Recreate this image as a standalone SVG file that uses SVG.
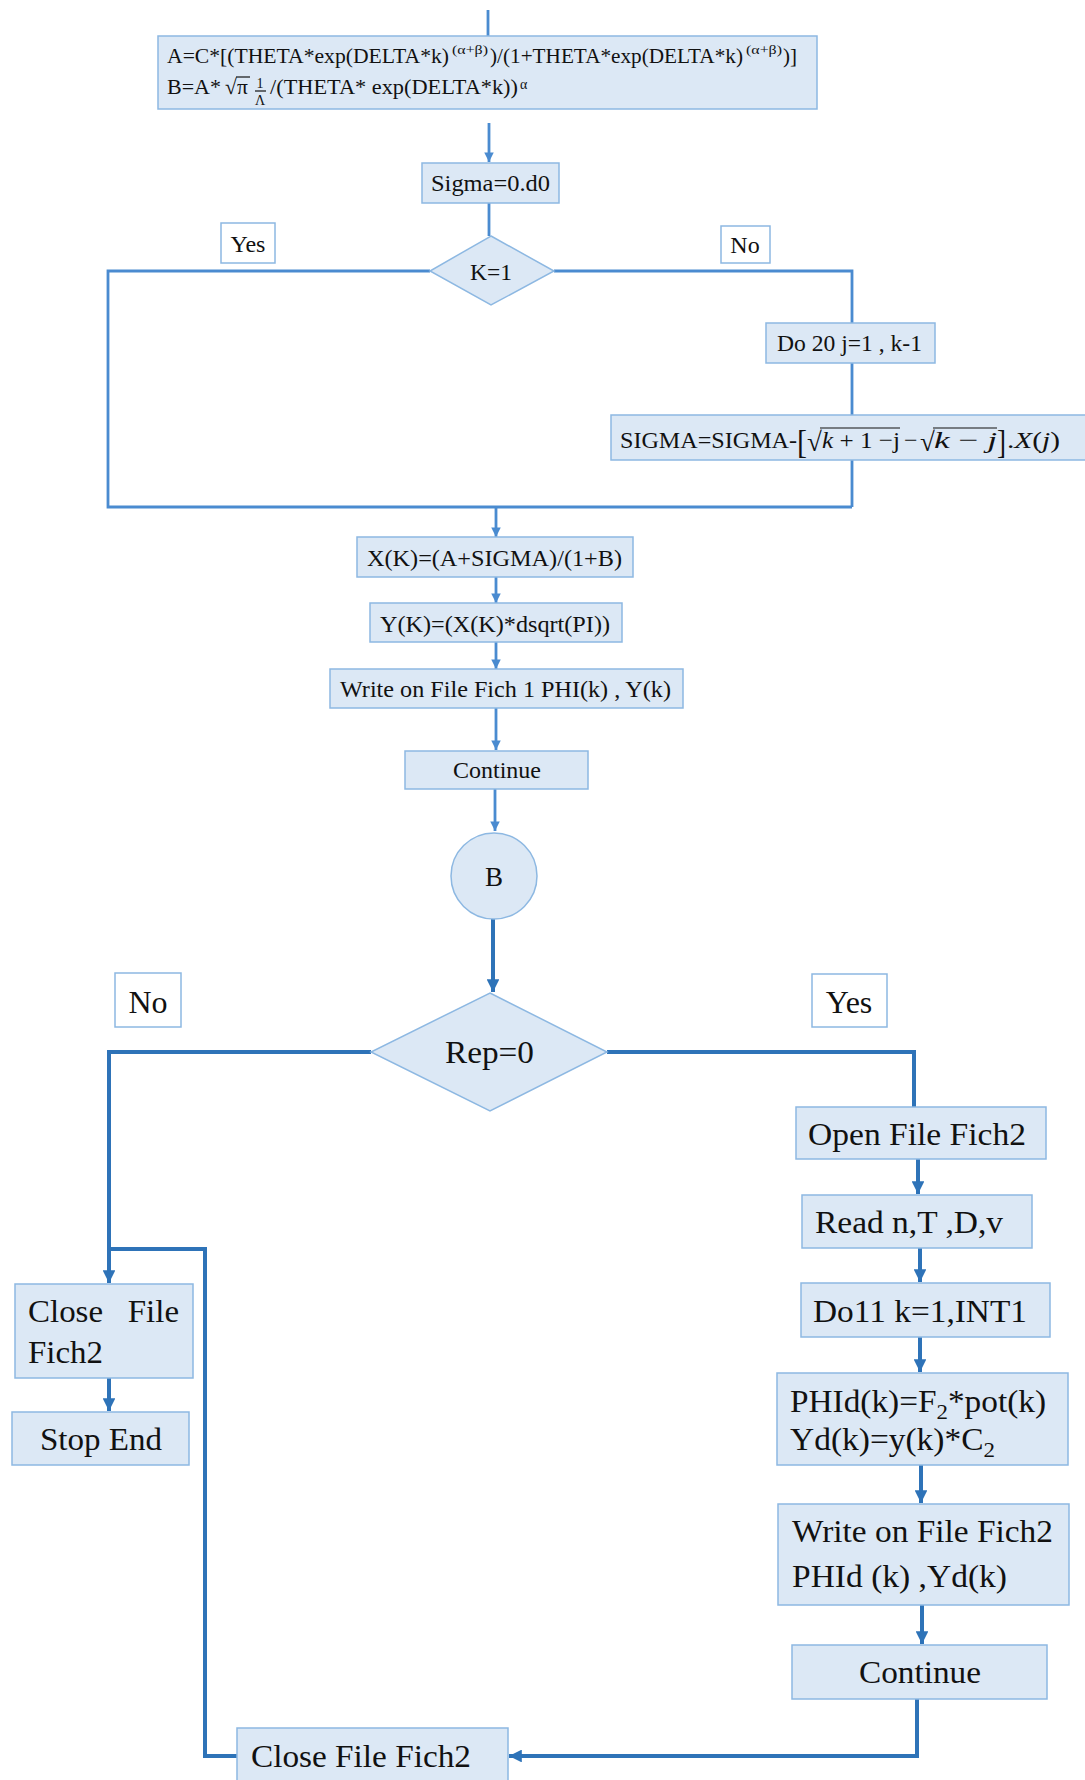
<svg xmlns="http://www.w3.org/2000/svg" width="1085" height="1780" viewBox="0 0 1085 1780">
<style>
text{font-family:"Liberation Serif","Times New Roman",serif;fill:#111}
.box{fill:#dce8f5;stroke:#8db8e2;stroke-width:1.5}
.lbl{fill:#fff;stroke:#8db8e2;stroke-width:1.5}
.t{font-size:24px}
.a{font-size:21.5px}
.s{font-size:13px}
.b{font-size:32px}
.c1{fill:none;stroke:#4a8bd0;stroke-width:2.8}
.c2{fill:none;stroke:#2e73b8;stroke-width:4}
.ov{stroke:#111;stroke-width:1.2}
</style>
<defs>
<marker id="ar" viewBox="0 0 10 10" refX="10" refY="5" markerWidth="3.4" markerHeight="3.4" orient="auto" markerUnits="strokeWidth">
<path d="M0,0 L10,5 L0,10 z" fill="#4a8bd0"/>
</marker>
<marker id="ar2" viewBox="0 0 10 10" refX="10" refY="5" markerWidth="3.2" markerHeight="3.2" orient="auto" markerUnits="strokeWidth">
<path d="M0,0 L10,5 L0,10 z" fill="#2e73b8"/>
</marker>
</defs>

<g id="connectors">
<path class="c1" d="M488,10 V36"/>
<path class="c1" d="M489,123 V162" marker-end="url(#ar)"/>
<path class="c1" d="M489,203 V236"/>
<path class="c1" d="M430,271 H108 V507 H852"/>
<path class="c1" d="M554,271 H852 V323"/>
<path class="c1" d="M852,363 V415"/>
<path class="c1" d="M852,460 V507"/>
<path class="c1" d="M496,507 V537" marker-end="url(#ar)"/>
<path class="c1" d="M496,577 V603" marker-end="url(#ar)"/>
<path class="c1" d="M496,642 V669" marker-end="url(#ar)"/>
<path class="c1" d="M496,708 V750" marker-end="url(#ar)"/>
<path class="c1" d="M495,789 V831" marker-end="url(#ar)"/>
<path class="c2" d="M493,919 V992" marker-end="url(#ar2)"/>
<path class="c2" d="M371,1052 H109 V1283" marker-end="url(#ar2)"/>
<path class="c2" d="M607,1052 H914 V1107"/>
<path class="c2" d="M918,1159 V1194" marker-end="url(#ar2)"/>
<path class="c2" d="M920,1248 V1282" marker-end="url(#ar2)"/>
<path class="c2" d="M920,1337 V1372" marker-end="url(#ar2)"/>
<path class="c2" d="M921,1465 V1503" marker-end="url(#ar2)"/>
<path class="c2" d="M922,1605 V1644" marker-end="url(#ar2)"/>
<path class="c2" d="M917,1699 V1756 H509" marker-end="url(#ar2)"/>
<path class="c2" d="M237,1756 H205 V1249 H109"/>
<path class="c2" d="M109,1378 V1411" marker-end="url(#ar2)"/>
</g>

<g id="node-AB">
<rect class="box" x="158" y="36" width="659" height="73"/>
<text class="a" x="167" y="63" textLength="282" lengthAdjust="spacingAndGlyphs">A=C*[(THETA*exp(DELTA*k)</text>
<text class="s" x="452" y="54" textLength="36" lengthAdjust="spacingAndGlyphs">(α+β)</text>
<text class="a" x="490" y="63" textLength="253" lengthAdjust="spacingAndGlyphs">)/(1+THETA*exp(DELTA*k)</text>
<text class="s" x="746" y="54" textLength="36" lengthAdjust="spacingAndGlyphs">(α+β)</text>
<text class="a" x="783" y="63" textLength="14" lengthAdjust="spacingAndGlyphs">)]</text>
<text class="a" x="167" y="94" textLength="54" lengthAdjust="spacingAndGlyphs">B=A*</text>
<text class="a" x="225" y="94">√</text>
<text class="a" x="237" y="94">π</text>
<line class="ov" x1="236" y1="77" x2="250" y2="77"/>
<text x="260" y="88" font-size="14" text-anchor="middle">1</text>
<line class="ov" x1="255" y1="91" x2="266" y2="91"/>
<text x="260" y="105" font-size="14" text-anchor="middle">Λ</text>
<text class="a" x="270" y="94" textLength="248" lengthAdjust="spacingAndGlyphs">/(THETA* exp(DELTA*k))</text>
<text x="520" y="89" font-size="14">α</text>
</g>

<g id="node-sigma0">
<rect class="box" x="422" y="163" width="137" height="40"/>
<text class="t" x="431" y="191" textLength="119" lengthAdjust="spacingAndGlyphs">Sigma=0.d0</text>
</g>

<g id="node-k1">
<polygon class="box" points="491,236 554,271 491,305 430,271"/>
<text class="t" x="491" y="280" text-anchor="middle" textLength="42" lengthAdjust="spacingAndGlyphs">K=1</text>
</g>

<g id="label-yes1">
<rect class="lbl" x="221" y="223" width="54" height="40"/>
<text class="t" x="248" y="252" text-anchor="middle">Yes</text>
</g>

<g id="label-no1">
<rect class="lbl" x="721" y="226" width="49" height="37"/>
<text class="t" x="745" y="253" text-anchor="middle">No</text>
</g>

<g id="node-do20">
<rect class="box" x="766" y="323" width="169" height="40"/>
<text class="t" x="777" y="351" textLength="145" lengthAdjust="spacingAndGlyphs">Do 20 j=1 , k-1</text>
</g>

<g id="node-sigma">
<rect class="box" x="611" y="415" width="480" height="45"/>
<text class="t" x="620" y="448" textLength="177" lengthAdjust="spacingAndGlyphs">SIGMA=SIGMA-</text>
<text x="797" y="453" font-size="34" textLength="10" lengthAdjust="spacingAndGlyphs">[</text>
<text x="807" y="451" font-size="27">√</text>
<line class="ov" x1="820" y1="428" x2="900" y2="428"/>
<text class="t" x="822" y="448" textLength="78" lengthAdjust="spacingAndGlyphs"><tspan font-style="italic">k</tspan> + 1 −j</text>
<text class="t" x="904" y="448">−</text>
<text x="920" y="451" font-size="27">√</text>
<line class="ov" x1="933" y1="428" x2="997" y2="428"/>
<text class="t" x="934" y="448" textLength="63" lengthAdjust="spacingAndGlyphs"><tspan font-style="italic">k</tspan> − <tspan font-style="italic">j</tspan></text>
<text x="997" y="453" font-size="34" textLength="9" lengthAdjust="spacingAndGlyphs">]</text>
<text class="t" x="1007" y="448" textLength="53" lengthAdjust="spacingAndGlyphs">.<tspan font-style="italic">X</tspan>(<tspan font-style="italic">j</tspan>)</text>
</g>

<g id="node-xk">
<rect class="box" x="357" y="537" width="276" height="40"/>
<text class="t" x="367" y="566" textLength="255" lengthAdjust="spacingAndGlyphs">X(K)=(A+SIGMA)/(1+B)</text>
</g>

<g id="node-yk">
<rect class="box" x="370" y="603" width="252" height="39"/>
<text class="t" x="380" y="632" textLength="230" lengthAdjust="spacingAndGlyphs">Y(K)=(X(K)*dsqrt(PI))</text>
</g>

<g id="node-write1">
<rect class="box" x="330" y="669" width="353" height="39"/>
<text class="t" x="340" y="697" textLength="331" lengthAdjust="spacingAndGlyphs">Write on File Fich 1 PHI(k) , Y(k)</text>
</g>

<g id="node-continue1">
<rect class="box" x="405" y="751" width="183" height="38"/>
<text class="t" x="453" y="778" textLength="88" lengthAdjust="spacingAndGlyphs">Continue</text>
</g>

<g id="node-B">
<circle class="box" cx="494" cy="876" r="43"/>
<text x="494" y="886" text-anchor="middle" font-size="27">B</text>
</g>

<g id="node-rep">
<polygon class="box" points="490,993 607,1052 490,1111 371,1052"/>
<text class="b" x="445" y="1063" textLength="89" lengthAdjust="spacingAndGlyphs">Rep=0</text>
</g>

<g id="label-no2">
<rect class="lbl" x="115" y="973" width="66" height="54"/>
<text class="b" x="148" y="1013" text-anchor="middle">No</text>
</g>

<g id="label-yes2">
<rect class="lbl" x="812" y="974" width="75" height="53"/>
<text class="b" x="849" y="1013" text-anchor="middle">Yes</text>
</g>

<g id="node-open">
<rect class="box" x="796" y="1107" width="250" height="52"/>
<text class="b" x="808" y="1145" textLength="218" lengthAdjust="spacingAndGlyphs">Open File Fich2</text>
</g>

<g id="node-read">
<rect class="box" x="802" y="1195" width="230" height="53"/>
<text class="b" x="815" y="1233" textLength="188" lengthAdjust="spacingAndGlyphs">Read n,T ,D,v</text>
</g>

<g id="node-do11">
<rect class="box" x="801" y="1283" width="249" height="54"/>
<text class="b" x="813" y="1322" textLength="214" lengthAdjust="spacingAndGlyphs">Do11 k=1,INT1</text>
</g>

<g id="node-phid">
<rect class="box" x="777" y="1373" width="291" height="92"/>
<text class="b" x="790" y="1412" textLength="256" lengthAdjust="spacingAndGlyphs">PHId(k)=F<tspan font-size="22" dy="7">2</tspan><tspan dy="-7">*pot(k)</tspan></text>
<text class="b" x="790" y="1450" textLength="205" lengthAdjust="spacingAndGlyphs">Yd(k)=y(k)*C<tspan font-size="22" dy="7">2</tspan></text>
</g>

<g id="node-write2">
<rect class="box" x="778" y="1504" width="291" height="101"/>
<text class="b" x="792" y="1542" textLength="261" lengthAdjust="spacingAndGlyphs">Write on File Fich2</text>
<text class="b" x="792" y="1587" textLength="215" lengthAdjust="spacingAndGlyphs">PHId (k) ,Yd(k)</text>
</g>

<g id="node-continue2">
<rect class="box" x="792" y="1645" width="255" height="54"/>
<text class="b" x="859" y="1683" textLength="122" lengthAdjust="spacingAndGlyphs">Continue</text>
</g>

<g id="node-close2">
<rect class="box" x="237" y="1728" width="271" height="60"/>
<text class="b" x="251" y="1767" textLength="220" lengthAdjust="spacingAndGlyphs">Close File Fich2</text>
</g>

<g id="node-close1">
<rect class="box" x="15" y="1284" width="178" height="94"/>
<text class="b" x="28" y="1322" textLength="151" lengthAdjust="spacingAndGlyphs" xml:space="preserve">Close   File</text>
<text class="b" x="28" y="1363" textLength="75" lengthAdjust="spacingAndGlyphs">Fich2</text>
</g>

<g id="node-stop">
<rect class="box" x="12" y="1412" width="177" height="53"/>
<text class="b" x="40" y="1450" textLength="122" lengthAdjust="spacingAndGlyphs">Stop End</text>
</g>
</svg>
